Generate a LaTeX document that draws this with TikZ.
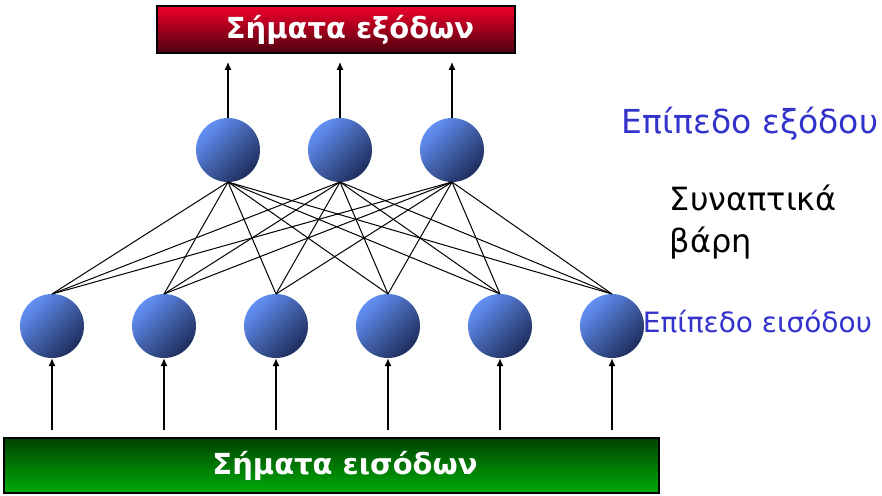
\documentclass[tikz,border=0pt]{standalone}
\usepackage{fontspec}
\setmainfont{DejaVu Sans}
\usetikzlibrary{arrows,arrows.meta,positioning}
\definecolor{nlight}{RGB}{100,145,245}
\definecolor{nmid}{RGB}{82,120,218}
\definecolor{ndark}{RGB}{30,44,92}
\definecolor{redtop}{RGB}{240,0,42}
\definecolor{redbtm}{RGB}{78,0,16}
\definecolor{grtop}{RGB}{0,66,0}
\definecolor{grbtm}{RGB}{0,172,8}
\definecolor{layerblue}{RGB}{51,51,204}

\begin{document}
\begin{tikzpicture}[->,>={Latex[length=8pt,width=7pt]}
  ,x=1pt,y=-1pt
  ,line width=1.6pt
  ,node distance=48pt]
  \tikzstyle{neuron}=[circle,minimum size=64pt,inner sep=0pt,outer sep=0pt,
  top color=nlight,middle color=nmid,bottom color=ndark,shading angle=45]
  \tikzstyle{sigbox}=[draw=black,line width=1.5pt,inner sep=0pt,
  text=white,font=\fontsize{29}{36}\selectfont\bfseries]

  \useasboundingbox (0,0) rectangle (882,495);

  % signal boxes
  \node[sigbox,minimum width=358pt,minimum height=47pt
  ,top color=redtop,middle color=redtop,bottom color=redbtm]
  (outs) at (336,29.5) {\hspace*{28pt}Σήματα εξόδων};
  \node[sigbox,minimum width=655pt,minimum height=55pt
  ,top color=grtop,bottom color=grbtm]
  (ins) at (331.5,465.5) {\hspace*{27pt}Σήματα εισόδων};

  % input layer
  \node[neuron] (i1) at (52,326) {};
  \node[neuron,right=of i1] (i2) {};
  \node[neuron,right=of i2] (i3) {};
  \node[neuron,right=of i3] (i4) {};
  \node[neuron,right=of i4] (i5) {};
  \node[neuron,right=of i5] (i6) {};
  % output layer
  \node[neuron] (o1) at (228,150) {};
  \node[neuron,right=of o1] (o2) {};
  \node[neuron,right=of o2] (o3) {};

  % labels
  \node[anchor=base west,inner sep=0pt,text=layerblue
  ,font=\fontsize{33}{40}\selectfont] (outlbl) at (621,133) {Επίπεδο εξόδου};
  \node[anchor=base west,inner sep=0pt,align=left
  ,font=\fontsize{32}{42}\selectfont] (wlbl) at (669,252) {Συναπτικά\\βάρη};
  \node[anchor=base west,inner sep=0pt,text=layerblue
  ,font=\fontsize{28}{35}\selectfont] (inlbl) at (642,332) {Επίπεδο εισόδου};

  % weights
  \path[-,line width=1pt]
  (i1.north) edge (o1.south) edge (o2.south) edge (o3.south)
  (i2.north) edge (o1.south) edge (o2.south) edge (o3.south)
  (i3.north) edge (o1.south) edge (o2.south) edge (o3.south)
  (i4.north) edge (o1.south) edge (o2.south) edge (o3.south)
  (i5.north) edge (o1.south) edge (o2.south) edge (o3.south)
  (i6.north) edge (o1.south) edge (o2.south) edge (o3.south);

  % signals in and out
  \path[shorten <=7pt]
  (i1 |- ins.north) edge (i1)
  (i2 |- ins.north) edge (i2)
  (i3 |- ins.north) edge (i3)
  (i4 |- ins.north) edge (i4)
  (i5 |- ins.north) edge (i5)
  (i6 |- ins.north) edge (i6);
  \path[shorten >=8pt]
  (o1) edge (o1 |- outs.south)
  (o2) edge (o2 |- outs.south)
  (o3) edge (o3 |- outs.south);

\end{tikzpicture}
\end{document}
